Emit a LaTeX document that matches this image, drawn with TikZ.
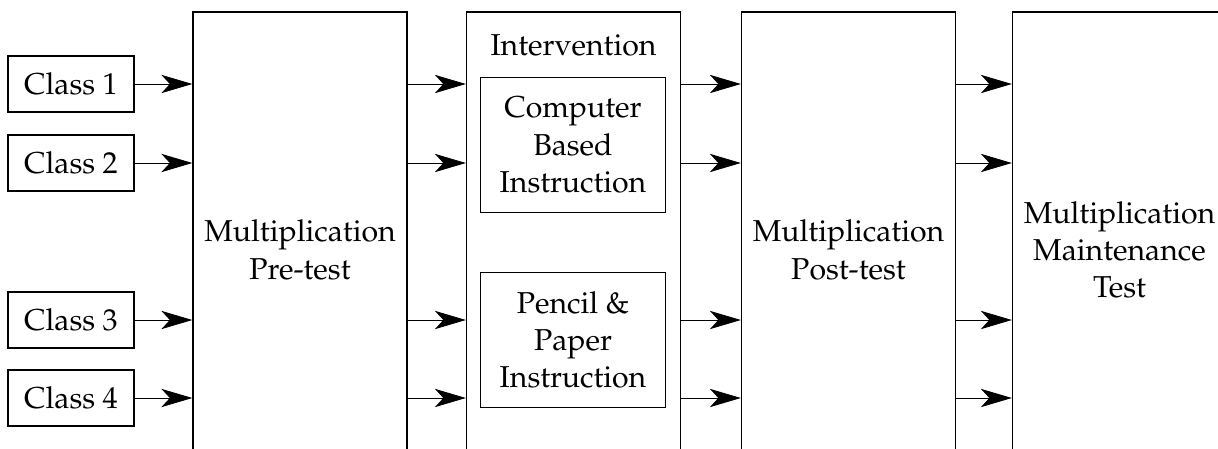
\documentclass[tikz,border=0pt]{standalone}
\usepackage[T1]{fontenc}
\usepackage{mathpazo}
\usepackage{tikz}
\usetikzlibrary{arrows.meta}
\tikzset{
    txt/.style={font=\fontsize{21.5}{26.5}\selectfont, align=center},
    classbox/.style={txt, shape=rectangle, draw=black, line width=0.9pt, inner sep=0pt, minimum width=3.15cm, minimum height=1.4cm},
    stagebox/.style={txt, shape=rectangle, draw=black, line width=0.9pt, inner sep=0pt, minimum width=5.35cm, minimum height=11.9cm},
    instrbox/.style={txt, shape=rectangle, draw=black, line width=0.9pt, inner sep=0pt, minimum width=4.625cm, minimum height=3.375cm},
    arr/.style={line width=0.6pt, -{Stealth[length=22pt, width=13pt, inset=6pt]}}}

\begin{document}
\begin{tikzpicture}[x=0.025cm, y=-0.025cm]
        \useasboundingbox (0,0) rectangle (1218,448);
        \clip (0,0) rectangle (1218,448);

                    % the four classes
                    \node[classbox] (C1) at (71,84) {Class 1};
                    \node[classbox] (C2) at (71,163) {Class 2};
                    \node[classbox] (C3) at (71,320) {Class 3};
                    \node[classbox] (C4) at (71,398) {Class 4};

                    % the test stages
                    \node[stagebox] (Pre) at (300,250) {Multiplication\\Pre-test};
                    \node[stagebox] (Int) at (573.5,250) {};
                    \node[txt, anchor=base] (IntLabel) at (573.5,55) {Intervention};
                    \node[instrbox] (CBI) at (573,145) {Computer\\Based\\Instruction};
                    \node[instrbox] (PPI) at (573,340) {Pencil \&\\Paper\\Instruction};
                    \node[stagebox] (Post) at (848.5,250) {Multiplication\\Post-test};
                    \node[stagebox] (Maint) at (1119.5,250) {Multiplication\\Maintenance\\Test};

                    % arrows into the pre-test
                    \foreach \c in {C1, C2, C3, C4}
                        \draw[arr] (\c.east) -- (\c -| Pre.west);

                    % arrows between the stages
                    \foreach \a/\b in {Pre/Int, Int/Post, Post/Maint}
                        \foreach \c in {C1, C2, C3, C4}
                            \draw[arr] (\c -| \a.east) -- (\c -| \b.west);

                \end{tikzpicture}
\end{document}
